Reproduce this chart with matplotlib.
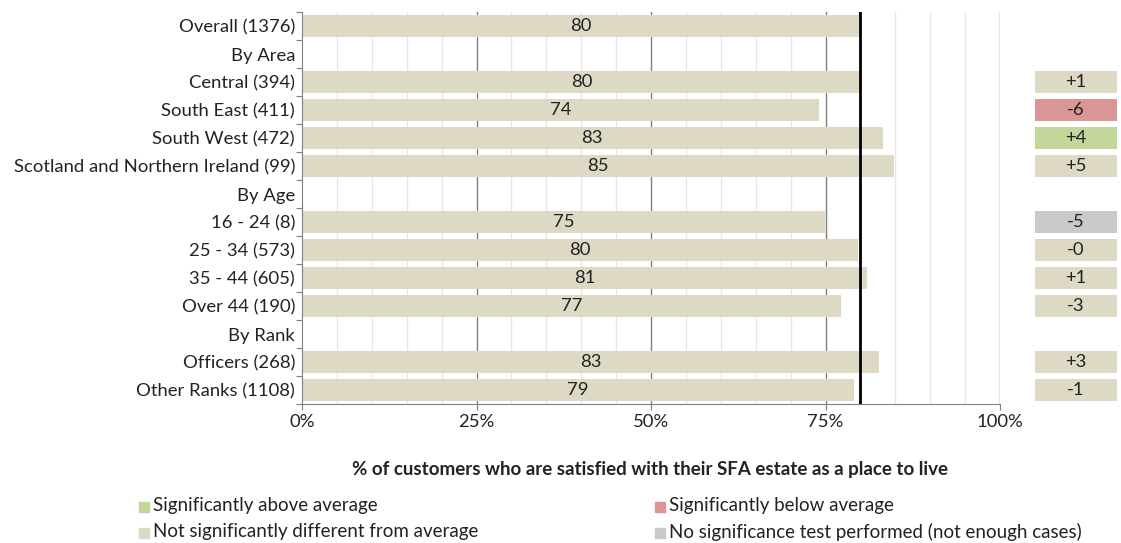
import numpy as np
import matplotlib.pyplot as plt
from matplotlib.patches import Rectangle

plt.rcParams['font.family'] = ['Lato', 'DejaVu Sans']

# rows from top to bottom; header rows have no bar
labels = ["Overall (1376)", "By Area", "Central (394)", "South East (411)",
          "South West (472)", "Scotland and Northern Ireland (99)", "By Age",
          "16 - 24 (8)", "25 - 34 (573)", "35 - 44 (605)", "Over 44 (190)",
          "By Rank", "Officers (268)", "Other Ranks (1108)"]
values = [80.0, np.nan, 80.2, 74.1, 83.2, 84.8, np.nan,
          74.9, 79.6, 81.0, 77.2, np.nan, 82.7, 79.1]
diffs = [None, None, "+1", "-6", "+4", "+5", None,
         "-5", "-0", "+1", "-3", None, "+3", "-1"]
sig = [None, None, "ns", "below", "above", "ns", None,
       "none", "ns", "ns", "ns", None, "ns", "ns"]
overall = 80.0

colours = {"above": "#c4d79b", "below": "#da9694",
           "ns": "#ddd9c4", "none": "#c9c9c9"}
legend_items = [("above", "Significantly above average"),
                ("below", "Significantly below average"),
                ("ns", "Not significantly different from average"),
                ("none", "No significance test performed (not enough cases)")]

W, H = 1121, 543
fig = plt.figure(figsize=(W / 100, H / 100), dpi=100)
ax = fig.add_axes([302 / W, 1 - 404 / H, 698 / W, 392 / H])
axd = fig.add_axes([1035 / W, 1 - 404 / H, 82 / W, 392 / H])

n = len(labels)
y = np.arange(n)
fs = 13.3
ink = "#222222"

# grid lines every 5%, darker at the quarters
for g in range(5, 101, 5):
    if g % 25 == 0:
        ax.axvline(g, color="#7f7f7f", lw=1, zorder=0)
    else:
        ax.axvline(g, color="#e6e6e6", lw=1, zorder=0)

ax.barh(y, values, height=0.82, color=colours["ns"], zorder=2)
for yi, v in zip(y, values):
    if not np.isnan(v):
        ax.text(v / 2, yi, f"{v:.0f}", ha="center", va="center",
                fontsize=fs, color=ink, zorder=3)

ax.axvline(overall, color="black", lw=2, zorder=4)

ax.set_xlim(0, 100)
ax.set_ylim(n - 0.5, -0.5)
ax.set_xticks([0, 25, 50, 75, 100])
ax.set_xticklabels(["0%", "25%", "50%", "75%", "100%"], fontsize=fs, color=ink)
ax.set_yticks(np.arange(n + 1) - 0.5)
ax.set_yticklabels([])
ax.set_yticks(y, minor=True)
ax.set_yticklabels(labels, minor=True, fontsize=fs, color=ink)
ax.tick_params(axis="y", which="major", length=4, color="#7f7f7f")
ax.tick_params(axis="y", which="minor", length=0, pad=5)
ax.tick_params(axis="x", length=4, color="#7f7f7f", pad=3)
for side in ["top", "right"]:
    ax.spines[side].set_visible(False)
for side in ["left", "bottom"]:
    ax.spines[side].set_color("#7f7f7f")

# difference from overall, coloured by significance
for yi, d, s in zip(y, diffs, sig):
    if d is None:
        continue
    axd.barh(yi, 1, height=0.82, color=colours[s])
    axd.text(0.5, yi, d, ha="center", va="center", fontsize=fs, color=ink)
axd.set_xlim(0, 1)
axd.set_ylim(n - 0.5, -0.5)
axd.axis("off")

fig.text(650 / W, 1 - 470 / H,
         "% of customers who are satisfied with their SFA estate as a place to live",
         ha="center", va="center", fontsize=13.5, fontweight="bold", color=ink)

pos = [(139, 506), (655, 506), (139, 532), (655, 532)]
for (key, text), (px, py) in zip(legend_items, pos):
    fig.patches.append(Rectangle((px / W, 1 - (py + 6) / H), 10 / W, 10 / H,
                                 transform=fig.transFigure, color=colours[key]))
    fig.text((px + 14) / W, 1 - py / H, text, ha="left", va="center",
             fontsize=13.5, color=ink)

fig.savefig("out.png", dpi=100)
